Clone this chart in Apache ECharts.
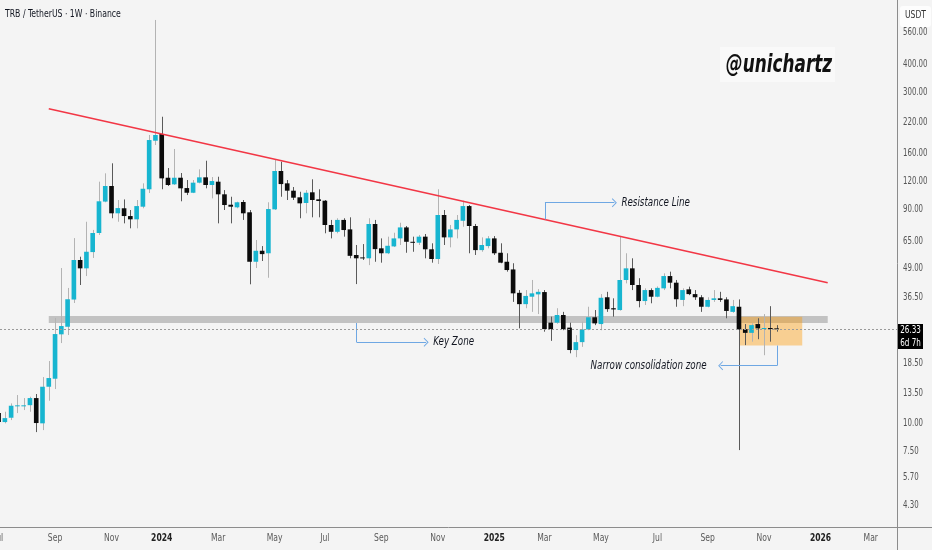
<!DOCTYPE html>
<html><head><meta charset="utf-8">
<script src="https://cdn.jsdelivr.net/npm/echarts@6/dist/echarts.min.js"></script>
<style>html,body{margin:0;padding:0;background:#f4f4f4;}#c{width:932px;height:550px;}</style>
</head><body><div id="c"></div>
<script>
// ---- weekly candles (Monday open dates) ----
const weeks = [
 '2023-07-03','2023-07-10','2023-07-17','2023-07-24','2023-07-31','2023-08-07','2023-08-14','2023-08-21','2023-08-28','2023-09-04','2023-09-11','2023-09-18','2023-09-25','2023-10-02','2023-10-09','2023-10-16','2023-10-23','2023-10-30','2023-11-06','2023-11-13','2023-11-20','2023-11-27','2023-12-04','2023-12-11','2023-12-18','2023-12-25',
 '2024-01-01','2024-01-08','2024-01-15','2024-01-22','2024-01-29','2024-02-05','2024-02-12','2024-02-19','2024-02-26','2024-03-04','2024-03-11','2024-03-18','2024-03-25','2024-04-01','2024-04-08','2024-04-15','2024-04-22','2024-04-29','2024-05-06','2024-05-13','2024-05-20','2024-05-27','2024-06-03','2024-06-10','2024-06-17','2024-06-24','2024-07-01','2024-07-08','2024-07-15','2024-07-22','2024-07-29','2024-08-05','2024-08-12','2024-08-19','2024-08-26','2024-09-02','2024-09-09','2024-09-16','2024-09-23','2024-09-30','2024-10-07','2024-10-14','2024-10-21','2024-10-28','2024-11-04','2024-11-11','2024-11-18','2024-11-25','2024-12-02','2024-12-09','2024-12-16','2024-12-23','2024-12-30',
 '2025-01-06','2025-01-13','2025-01-20','2025-01-27','2025-02-03','2025-02-10','2025-02-17','2025-02-24','2025-03-03','2025-03-10','2025-03-17','2025-03-24','2025-03-31','2025-04-07','2025-04-14','2025-04-21','2025-04-28','2025-05-05','2025-05-12','2025-05-19','2025-05-26','2025-06-02','2025-06-09','2025-06-16','2025-06-23','2025-06-30','2025-07-07','2025-07-14','2025-07-21','2025-07-28','2025-08-04','2025-08-11','2025-08-18','2025-08-25','2025-09-01','2025-09-08','2025-09-15','2025-09-22','2025-09-29','2025-10-06','2025-10-13','2025-10-20','2025-10-27','2025-11-03','2025-11-10','2025-11-17'
];
const opens = [
 11.08,10.10,10.56,11.9,11.95,12.02,12.93,9.97,14.53,15.78,24.92,26.94,35.65,53.55,49.15,58.1,70.7,97.7,114.7,86.6,91.2,84.2,81.4,92.7,110.9,182.8,
 195.9,124.9,116.7,124.9,112.3,107.0,118.7,125.4,115.9,119.9,105.3,94.6,92.1,97.3,87.5,52.6,58.9,57.4,90.2,133.9,117.9,109.3,102.1,96.3,107.5,100.0,98.6,76.8,71.6,80.9,73.4,56.4,55.0,54.5,77.6,60.4,57.4,61.6,66.9,74.9,64.6,64.0,68.1,59.8,54.1,85.1,67.6,73.4,80.2,93.3,76.0,59.3,61.8,
 66.9,57.7,52.6,48.6,38.2,34.0,36.7,37.6,38.5,28.1,28.1,30.4,26.7,21.2,23.0,26.2,29.7,27.7,36.5,32.6,32.0,43.6,49.15,41.4,35.1,39.3,36.7,40.0,45.4,42.4,35.5,39.6,37.7,36.5,33.1,35.5,36.1,35.7,31.4,33.1,26.3,25.3,27.7,26.5,26.6,26.5
];
const closes = [
 10.10,10.52,11.95,12.0,12.0,12.93,10.0,14.53,15.89,24.99,27.14,35.76,53.55,49.15,58.3,70.7,98.0,114.7,86.6,91.4,84.2,81.4,93.3,111.5,184.1,193.9,
 124.1,115.9,124.9,112.0,107.0,118.7,125.4,115.9,120.7,105.3,94.3,92.7,97.0,86.6,52.6,58.9,56.9,90.5,133.9,117.0,109.3,101.7,95.96,107.0,99.3,98.3,76.8,71.6,80.9,72.9,55.9,54.5,54.5,77.6,59.9,57.4,62.0,66.9,74.9,64.6,64.0,68.1,59.8,54.1,85.1,67.6,73.4,80.9,93.3,76.0,59.3,62.5,66.9,
 57.4,52.1,48.3,38.0,34.0,37.0,38.0,38.6,26.3,26.3,30.4,26.3,21.2,23.0,26.2,29.7,27.9,36.3,32.3,32.2,43.6,49.15,41.4,35.1,39.3,36.7,40.2,45.4,42.4,35.76,39.3,37.7,36.5,33.1,35.5,36.1,35.5,31.7,33.3,26.2,25.3,27.4,26.5,26.6,26.5,26.33
];
const lows = [
 9.79,9.97,10.31,11.08,11.43,11.23,9.11,9.30,12.58,14.19,22.78,24.74,34.4,41.4,45.4,54.7,69.3,97.0,82.3,79.4,78.1,74.2,74.2,91.2,106.7,174.9,
 110.9,114.7,115.9,98.0,104.5,106.6,117.9,112.0,101.0,78.1,89.6,78.1,91.2,80.9,41.7,49.3,53.0,44.6,89.6,102.7,99.3,99.3,82.3,86.6,83.1,83.1,70.5,66.9,70.5,68.1,54.5,41.8,53.55,50.8,52.6,52.1,56.9,61.2,62.5,57.7,58.3,62.5,54.5,52.1,51.4,62.5,61.0,66.9,75.4,57.4,56.4,58.3,60.4,
 56.4,51.8,47.5,34.8,26.5,32.6,31.4,30.7,25.6,23.3,27.8,26.0,20.5,19.7,21.9,26.0,27.4,26.0,31.4,29.9,31.8,42.1,39.3,32.9,33.7,34.3,36.5,39.3,40.0,33.1,33.3,37.3,35.5,31.4,32.9,34.8,34.8,29.4,31.1,7.57,22.3,23.1,23.7,20.1,23.1,25.6
];
const highs = [
 11.43,11.23,12.24,13.34,12.93,13.11,13.48,16.05,18.93,29.5,49.3,40.17,67.1,55.4,79.4,73.0,119.9,130.7,144.9,99.3,99.9,89.6,99.3,117.9,193.9,633.5,
 234.0,138.0,167.9,131.1,122.0,122.0,136.2,148.8,125.8,126.2,110.0,102.7,97.6,99.3,89.6,65.8,61.8,97.0,149.9,147.3,122.0,113.5,108.1,110.0,122.9,110.9,99.3,80.9,82.3,82.3,83.1,62.5,63.1,82.3,80.9,66.9,68.1,70.9,78.6,76.0,68.1,69.3,70.0,63.6,110.9,89.6,76.8,85.1,98.6,94.3,77.6,67.6,68.5,
 68.5,63.6,57.4,51.8,39.3,39.3,43.6,39.7,39.3,29.9,32.6,31.4,28.1,24.7,28.4,33.1,32.0,37.7,38.6,36.1,68.1,57.4,54.5,44.4,40.0,40.0,40.8,46.7,47.5,43.6,40.0,40.7,39.3,37.3,36.5,39.3,38.6,36.5,35.5,35.7,27.7,27.9,29.4,30.7,33.3,27.4
];
// ---- axis ticks ----
const priceTicks = [4.3, 5.7, 7.5, 10, 13.5, 18.5, 36.5, 49, 65, 90, 120, 160, 220, 300, 400, 560];
const monthTicks = ['2023-07-03','2023-09-04','2023-11-06','2024-01-01','2024-03-04','2024-05-06','2024-07-01','2024-09-02','2024-11-04','2025-01-06','2025-03-03','2025-05-05','2025-07-07','2025-09-01','2025-11-03','2026-01-05','2026-03-02'];
const monthLabels = ['Jul','Sep','Nov','2024','Mar','May','Jul','Sep','Nov','2025','Mar','May','Jul','Sep','Nov','2026','Mar'];
const xRange = ['2023-07-04T14:00', '2026-03-31T07:00'];
const yRange = [3.43, 778.1];
// ---- drawings ----
const lastPrice = 26.33;
const lastLabel = ['26.33', '6d 7h'];
const keyZone = [['2023-08-28', 30.1], ['2026-01-13', 28.0]];
const consolidationBox = [['2025-10-06', 29.86], ['2025-12-15T14:00', 22.2]];
const resistanceLine = [['2023-08-28', 254], ['2026-01-13', 42.4]];
// callouts: [cornerDate, fromPrice, toPrice, tipDate, text]
const callouts = [
  ['2025-03-03T13:00', 81.3, 96.6, '2025-05-20', 'Resistance Line'],
  ['2024-08-05T12:00', 28.0, 22.96, '2024-10-22', 'Key Zone'],
  ['2025-11-17T10:00', 22.2, 18.05, '2025-09-15T13:00', 'Narrow consolidation zone']
];

const ts = s => Date.parse(s.length === 10 ? s + 'T00:00:00Z' : s + ':00Z');
const NARROW = "'Liberation Sans Narrow','DejaVu Sans Condensed','Liberation Sans',sans-serif";
const UP = '#17b5d0', DOWN = '#0b0b0b', UPWICK = '#b3b3b3', DOWNWICK = '#5a5a5a';
const ARROW = '#6ea7e3';
const CHEVRON = 'path://M4.5,0 L9,4.4 L8.3,5 L4.5,1.3 L0.7,5 L0,4.4 Z';

const candleData = weeks.map((w, i) => [ts(w), opens[i], closes[i], lows[i], highs[i]]);
const WEEK = 7 * 864e5;

const calloutLines = [];
callouts.forEach(c => {
  const t0 = ts(c[0]), t1 = ts(c[3]);
  calloutLines.push([{coord: [t0, c[1]], symbol: 'none'}, {coord: [t0, c[2]], symbol: 'none'}]);
  calloutLines.push([{coord: [t0, c[2]], symbol: 'none'}, {coord: [t1, c[2]], symbol: CHEVRON, symbolSize: [9, 5]}]);
});

const chart = echarts.init(document.getElementById('c'), null, {renderer: 'canvas'});
chart.setOption({
  backgroundColor: '#f4f4f4',
  animation: false,
  grid: {left: 0, right: 35, top: 0, bottom: 23, containLabel: false},
  xAxis: {
    type: 'time', min: ts(xRange[0]), max: ts(xRange[1]),
    axisLine: {show: true, lineStyle: {color: '#8c8c8c', width: 1}},
    axisTick: {show: false}, splitLine: {show: false},
    axisLabel: {show: false}
  },
  yAxis: {
    type: 'log', logBase: 10, position: 'right', min: yRange[0], max: yRange[1],
    axisLine: {show: true, lineStyle: {color: '#8c8c8c', width: 1}},
    axisTick: {show: false}, splitLine: {show: false},
    axisLabel: {show: false}
  },
  series: [
    {
      type: 'scatter', data: [], z: 1, silent: true,
      markArea: {
        silent: true,
        data: [
          [{coord: [ts(keyZone[0][0]), keyZone[0][1]], itemStyle: {color: 'rgba(160,160,160,0.6)'}}, {coord: [ts(keyZone[1][0]), keyZone[1][1]]}],
          [{coord: [ts(consolidationBox[0][0]), consolidationBox[0][1]], itemStyle: {color: 'rgba(255,152,0,0.4)'}}, {coord: [ts(consolidationBox[1][0]), consolidationBox[1][1]]}]
        ]
      }
    },
    {
      type: 'custom', z: 3, data: candleData, encode: {x: 0, y: [1, 2, 3, 4]},
      renderItem: function (params, api) {
        const t = api.value(0), o = api.value(1), c = api.value(2), l = api.value(3), h = api.value(4);
        const pO = api.coord([t, o]), pC = api.coord([t, c]), pL = api.coord([t, l]), pH = api.coord([t, h]);
        const w = (api.coord([t + WEEK / 2, o])[0] - api.coord([t - WEEK / 2, o])[0]) * 0.74;
        const up = c >= o;
        const top = Math.min(pO[1], pC[1]);
        const hgt = Math.max(Math.abs(pO[1] - pC[1]), 1);
        const xc = Math.round(pO[0]) + 0.5;
        return {type: 'group', children: [
          {type: 'line', shape: {x1: xc, y1: pH[1], x2: xc, y2: pL[1]}, style: {stroke: up ? UPWICK : DOWNWICK, lineWidth: 1}},
          {type: 'rect', shape: {x: pO[0] - w / 2, y: top, width: w, height: hgt}, style: {fill: up ? UP : DOWN}}
        ]};
      }
    },
    {
      type: 'line', z: 4, silent: true, symbol: 'none',
      data: resistanceLine.map(p => [ts(p[0]), p[1]]),
      lineStyle: {color: '#f23645', width: 1.6}
    },
    {
      type: 'scatter', data: [], z: 5, silent: true,
      markLine: {
        silent: true, symbol: 'none', animation: false,
        lineStyle: {color: ARROW, width: 1, type: 'solid'},
        label: {show: false},
        data: calloutLines
      }
    },
    {
      type: 'scatter', data: [], z: 6, silent: true,
      markLine: {
        silent: true, symbol: 'none',
        lineStyle: {color: '#9a9a9a', width: 1, type: [2, 2]},
        label: {show: false},
        data: [{yAxis: lastPrice}]
      }
    }
  ]
});

// ---- texts, positioned through the chart's own axes ----
const P = (t, v) => chart.convertToPixel({xAxisIndex: 0, yAxisIndex: 0}, [t, v]);
const txt = (x, y, text, opt) => Object.assign({
  type: 'text', x: x, y: y, scaleX: opt.sx, z: opt.z || 100, silent: true,
  style: Object.assign({text: text, fontFamily: NARROW, fontSize: 10, fill: '#555', align: 'left', verticalAlign: 'middle'}, opt.style)
});
const g = [];
const right = P(ts(xRange[1]), yRange[0]);
// frame extensions into the scale area
g.push({type: 'line', shape: {x1: right[0] + 0.5, y1: right[1], x2: right[0] + 0.5, y2: 550}, style: {stroke: '#8c8c8c', lineWidth: 1}, z: 90, silent: true});
g.push({type: 'line', shape: {x1: right[0], y1: Math.round(right[1]) + 0.5, x2: 932, y2: Math.round(right[1]) + 0.5}, style: {stroke: '#8c8c8c', lineWidth: 1}, z: 90, silent: true});
// price scale labels
priceTicks.forEach(v => {
  const p = P(ts(xRange[1]), v);
  g.push(txt(p[0] + 6, p[1], v.toFixed(2), {sx: 0.78, style: {fontSize: 10, fill: '#555'}}));
});
// time scale labels
monthTicks.forEach((m, i) => {
  const p = P(ts(m), yRange[0]);
  const yr = /^\d{4}$/.test(monthLabels[i]);
  g.push(txt(p[0], p[1] + 11, monthLabels[i], {sx: 0.85, style: {align: 'center', fontSize: 10, fill: yr ? '#222' : '#5a5a5a', fontWeight: yr ? 'bold' : 'normal'}}));
});
// callout texts
callouts.forEach(c => {
  const t0 = ts(c[0]), t1 = ts(c[3]);
  const p = P(t1, c[2]);
  const toRight = t1 > t0;
  g.push(txt(toRight ? p[0] + 7 : p[0] - 14, p[1], c[4], {sx: 0.81, style: {align: toRight ? 'left' : 'right', fontSize: 12, fontStyle: 'italic', fill: '#131722'}}));
});
// last price tag
const lp = P(ts(xRange[1]), lastPrice);
g.push({type: 'rect', shape: {x: lp[0] + 1, y: lp[1] - 5, width: 25, height: 25}, style: {fill: '#000'}, z: 110, silent: true});
g.push(txt(lp[0] + 13.5, lp[1] + 1.5, lastLabel[0], {sx: 0.8, z: 111, style: {align: 'center', fontSize: 10, fill: '#fff'}}));
g.push(txt(lp[0] + 13.5, lp[1] + 14, lastLabel[1], {sx: 0.8, z: 111, style: {align: 'center', fontSize: 10, fill: '#fff'}}));
// header, currency tag and watermark
g.push(txt(5, 14, 'TRB / TetherUS · 1W · Binance', {sx: 0.82, style: {fontSize: 10.5, fill: '#131722'}}));
g.push({type: 'rect', shape: {x: 900, y: 6, width: 31, height: 21, r: 3}, style: {fill: '#fdfdfd'}, z: 120, silent: true});
g.push(txt(915.5, 15, 'USDT', {sx: 0.85, z: 121, style: {align: 'center', fontSize: 10, fill: '#333'}}));
g.push({type: 'rect', shape: {x: 720, y: 47, width: 115, height: 35}, style: {fill: '#f9f9f9'}, z: 50, silent: true});
g.push(txt(779, 65, '@unichartz', {sx: 0.75, z: 51, style: {align: 'center', fontSize: 25, fontStyle: 'italic', fontWeight: 'bold', fill: '#111'}}));
chart.setOption({graphic: g});
</script></body></html>
